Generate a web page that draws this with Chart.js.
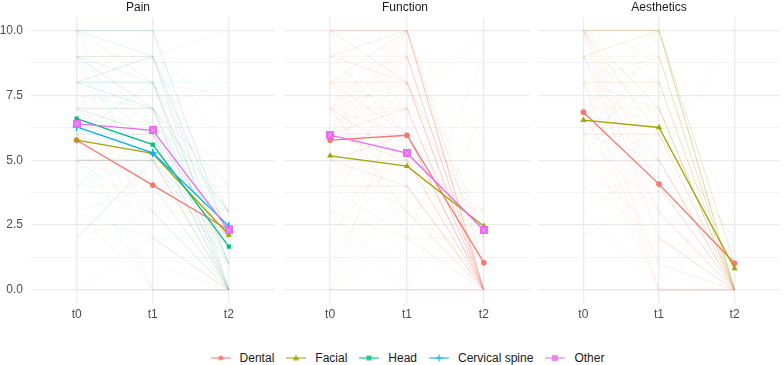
<!DOCTYPE html>
<html lang="en">
<head>
<meta charset="UTF-8">
<title>Pain, Function, Aesthetics over time</title>
<script src="https://cdn.jsdelivr.net/npm/chart.js"></script>
<style>
  body { margin: 0; background: #fff; font-family: "Liberation Sans", Arial, sans-serif; }
  #wrap { position: relative; width: 784px; height: 365px; overflow: hidden; }
  #wrap canvas { position: absolute; top: 0; }
  #legend { position: absolute; left: 31px; width: 753px; top: 349px; height: 18px;
            display: flex; justify-content: center; align-items: center;
            font-size: 12px; color: #1a1a1a; }
  .item { display: flex; align-items: center; margin: 0 6px; }
  .item svg { margin-right: 9px; }
</style>
</head>
<body>
<div id="wrap">
  <canvas id="pain" width="280" height="322" style="left:0"></canvas>
  <canvas id="function" width="254" height="322" style="left:280px"></canvas>
  <canvas id="aesthetics" width="250" height="322" style="left:534px"></canvas>
  <div id="legend"></div>
</div>
<script>
const timepoints = ["t0", "t1", "t2"];
const groupNames = ["Dental", "Facial", "Head", "Cervical spine", "Other"];
const groupColors = ["#F8766D", "#A3A500", "#00BF7D", "#00B0F6", "#E76BF3"];
const yMajor = [0, 2.5, 5, 7.5, 10];
const yMinor = [1.25, 3.75, 6.25, 8.75];

// group means (t0, t1, t2)
const painDentalMean = [5.77, 4.04, 2.30];
const painFacialMean = [5.77, 5.26, 2.12];
const painHeadMean = [6.60, 5.60, 1.67];
const painCervicalMean = [6.28, 5.28, 2.46];
const painOtherMean = [6.41, 6.15, 2.31];

const functionDentalMean = [5.77, 5.96, 1.05];
const functionFacialMean = [5.17, 4.77, 2.46];
const functionOtherMean = [5.97, 5.27, 2.31];

const aestheticsDentalMean = [6.85, 4.08, 1.03];
const aestheticsFacialMean = [6.54, 6.26, 0.83];

// individual patient trajectories (faint background lines), estimated
const painDental = [[10,8,3],[8,5,0],[7,3,2],[6,2,0],[5,4,5],[3,0,0],[9,7,4],[4,6,1],[0,2,0],[7,5,9],[6,6,2],[8,0,0],[5,5,2],[2,3,0],[9,9,1],[7,7,0],[6,4,3],[10,5,0]];
const painFacial = [[5,8,0],[9,9,3],[10,6,2],[2,5,0],[7,7,1],[6,3,3],[0,0,0],[8,10,5],[4,4,2],[5,5,0],[9,2,0],[6,7,8],[8,8,1],[7,6,0],[3,1,0]];
const painHead = [[10,10,0],[8,9,2],[9,7,3],[7,5,1],[6,6,0],[5,2,2],[3,4,0],[8,8,8],[6,5,5],[10,3,0],[7,6,2],[9,8,1],[7.5,7,0],[6.5,6.5,3],[8,9,10],[5,0,0],[4,7,1],[9,9,0],[10,10,2],[8,8,0],[7,7,3],[6,8,1],[9,6,0],[2,5,2],[8,7,4],[10,9,1],[5,5,0],[7,4,0]];
const painCervical = [[8,6,3],[7,7,2],[6,8,0],[5,5,1],[9,4,4],[3,2,0],[10,9,7],[6,0,0],[7,10,2],[8,7,0],[2,5,3],[9,9,2],[8,8,1],[7,6,0],[10,8,3],[6,6,5],[5,3,0],[4,5,2]];
const painOther = [[9,8,4],[7,9,0],[6,6,2],[8,7,3],[5,5,1],[4,3,0],[10,10,2],[7,8,7.5],[6,4,0],[9,7,0],[8,9,2]];

const functionDental = [[10,10,0],[8,9,0],[7,8,1],[6,7,0],[5,6,2],[9,10,0],[3,5,0],[0,4,0],[10,7,3],[6,6,0],[8,8,0],[4,2,0],[7,10,1],[2,3,0],[5,5,0],[9,9,2],[1,6,0],[6,8,0],[0,0,0],[7,4,0],[10,9,0],[8,6,1],[7,7,0],[6.5,7,0],[5,3,0],[9,8,0],[4,8,2],[3,0,0],[10,10,1],[8,10,0],[10,10,0],[9,10,0],[8,8,0],[7,9,0],[6,10,0],[5,7,0],[4,4,0],[10,8,0],[9,6,0],[2,7,0],[8,2,0],[6,5,1],[7,6,0],[3,9,0],[10,4,0],[0,8,0],[5,10,2],[8,5,0],[7,3,0],[6,9,0]];
const functionFacial = [[8,7,5],[5,6,4],[3,2,2],[6,5,0],[10,8,6],[4,4,3],[0,0,7],[7,3,1],[2,6,0],[6,7,10],[5,4,0],[9,6,3],[8,10,0],[7,5,2],[4,6,1],[6,3,4],[0,2,9]];
const functionOther = [[7,5,3],[6,6,0],[9,8,2],[5,4,1],[8,6,0]];

const aestheticsDental = [[10,7,0],[10,3,0],[9,2,0],[8,5,0],[7,4,0],[10,0,0],[6,6,1],[5,2,0],[8,8,0],[3,0,0],[9,5,2],[7,1,0],[10,6,0],[4,4,0],[6,3,0],[8,0,5],[0,0,0],[10,10,1],[9,4,0],[7,0,0],[8,3,0],[10,5,10],[10,2,0],[9,7,0],[8,1,0],[6,0,0],[7,5,0],[10,4,1],[5,5,0],[9,3,0],[8,6,2],[10,8,0]];
const aestheticsFacial = [[10,10,0],[8,10,0],[7,9,0],[6,8,0],[10,7,0],[5,6,0],[9,10,1],[8,7,0],[3,5,0],[6,6,2],[10,9,0],[4,2,0],[7,10,0],[2,4,0],[9,8,3],[10,10,0],[8,9,0],[6,5,0],[10,10,1],[9,9,0],[7,7,0],[8,8,0],[5,10,0],[10,6,0],[6,7,0],[9,10,0]];

function rgba(hex, a) {
  const n = parseInt(hex.slice(1), 16);
  return `rgba(${n >> 16},${(n >> 8) & 255},${n & 255},${a})`;
}

function boxX(color) {
  const c = document.createElement("canvas");
  c.width = 8; c.height = 8;
  const g = c.getContext("2d");
  g.fillStyle = color;
  g.fillRect(0, 0, 8, 8);
  g.strokeStyle = "rgba(255,255,255,0.35)"; g.lineWidth = 1;
  g.beginPath(); g.moveTo(1.5, 1.5); g.lineTo(6.5, 6.5); g.moveTo(6.5, 1.5); g.lineTo(1.5, 6.5); g.stroke();
  return c;
}

const shapes = ["circle", "triangle", "rect", "cross", boxX(groupColors[4])];
const radii = [2.8, 3.6, 3, 4, 4];

function meanSet(g, values) {
  return {
    data: values.map((v, i) => ({ x: i, y: v })),
    borderColor: groupColors[g],
    backgroundColor: groupColors[g],
    borderWidth: 1.3,
    pointStyle: shapes[g],
    pointRadius: radii[g],
    pointBorderWidth: g === 3 ? 1.5 : 0,
    pointBorderColor: groupColors[g],
    tension: 0
  };
}

function lineSet(g, rows, alpha) {
  const data = [];
  rows.forEach(r => {
    r.forEach((v, i) => data.push({ x: i, y: v }));
    data.push({ x: 2.3, y: null });
  });
  return {
    data,
    borderColor: rgba(groupColors[g], alpha),
    borderWidth: 0.6,
    pointRadius: 0,
    spanGaps: false,
    tension: 0
  };
}

function makePanel(id, title, means, lines, showY, padRight, alpha) {
  const datasets = [];
  means.slice().reverse().forEach(([g, v]) => datasets.push(meanSet(g, v)));
  lines.forEach(([g, rows]) => datasets.push(lineSet(g, rows, alpha)));
  new Chart(document.getElementById(id), {
    type: "line",
    data: { datasets },
    options: {
      responsive: false,
      animation: false,
      layout: { padding: { left: 0, right: padRight, top: 0, bottom: 0 } },
      plugins: {
        legend: { display: false },
        tooltip: { enabled: false },
        title: {
          display: true, text: title, color: "#1a1a1a",
          font: { family: "Liberation Sans", size: 12, weight: "normal" },
          padding: { top: 0, bottom: 3 }
        }
      },
      scales: {
        x: {
          type: "linear", min: -0.6, max: 2.6,
          afterBuildTicks: s => { s.ticks = timepoints.map((t, i) => ({ value: i })); },
          afterFit: s => { s.height = 19; },
          ticks: { callback: v => timepoints[v], color: "#4d4d4d", padding: 4, maxRotation: 0, autoSkip: false,
                   font: { family: "Liberation Sans", size: 12 } },
          grid: { color: "#ebebeb", lineWidth: 1.3, drawTicks: false },
          border: { display: false }
        },
        y: {
          type: "linear", min: -0.5, max: 10.5,
          afterBuildTicks: s => { s.ticks = yMajor.concat(yMinor).sort((a, b) => a - b).map(v => ({ value: v })); },
          afterFit: s => { s.width = showY ? 31 : 4; },
          ticks: { display: showY, color: "#4d4d4d", padding: 8, autoSkip: false,
                   font: { family: "Liberation Sans", size: 12 },
                   callback: v => yMajor.includes(v) ? v.toFixed(1) : "" },
          grid: { color: "#ebebeb", drawTicks: false,
                  lineWidth: c => (c.tick && yMajor.includes(c.tick.value)) ? 1.3 : 0.6 },
          border: { display: false }
        }
      }
    }
  });
}

makePanel("pain", "Pain",
  [[0, painDentalMean], [1, painFacialMean], [2, painHeadMean], [3, painCervicalMean], [4, painOtherMean]],
  [[0, painDental], [1, painFacial], [2, painHead], [3, painCervical], [4, painOther]], true, 4, 0.11);

makePanel("function", "Function",
  [[0, functionDentalMean], [1, functionFacialMean], [4, functionOtherMean]],
  [[0, functionDental], [1, functionFacial], [4, functionOther]], false, 4, 0.13);

makePanel("aesthetics", "Aesthetics",
  [[0, aestheticsDentalMean], [1, aestheticsFacialMean]],
  [[0, aestheticsDental], [1, aestheticsFacial]], false, 0, 0.13);

// shared legend
const markerSvg = [
  c => `<circle cx="10" cy="5" r="2.5" fill="${c}"/>`,
  c => `<polygon points="10,1.5 13.5,7.5 6.5,7.5" fill="${c}"/>`,
  c => `<rect x="7.5" y="2.5" width="5" height="5" fill="${c}"/>`,
  c => `<path d="M10 1.5V8.5M6.5 5H13.5" stroke="${c}" stroke-width="1.3"/>`,
  c => `<rect x="7" y="2" width="6" height="6" fill="${c}"/>`
];
const legend = document.getElementById("legend");
groupNames.forEach((name, g) => {
  const c = groupColors[g];
  const item = document.createElement("div");
  item.className = "item";
  item.innerHTML = `<svg width="20" height="10"><line x1="0" y1="5" x2="20" y2="5" stroke="${rgba(c, 0.8)}" stroke-width="1.3"/>${markerSvg[g](rgba(c, 0.8))}</svg><span>${name}</span>`;
  legend.appendChild(item);
});
</script>
</body>
</html>
